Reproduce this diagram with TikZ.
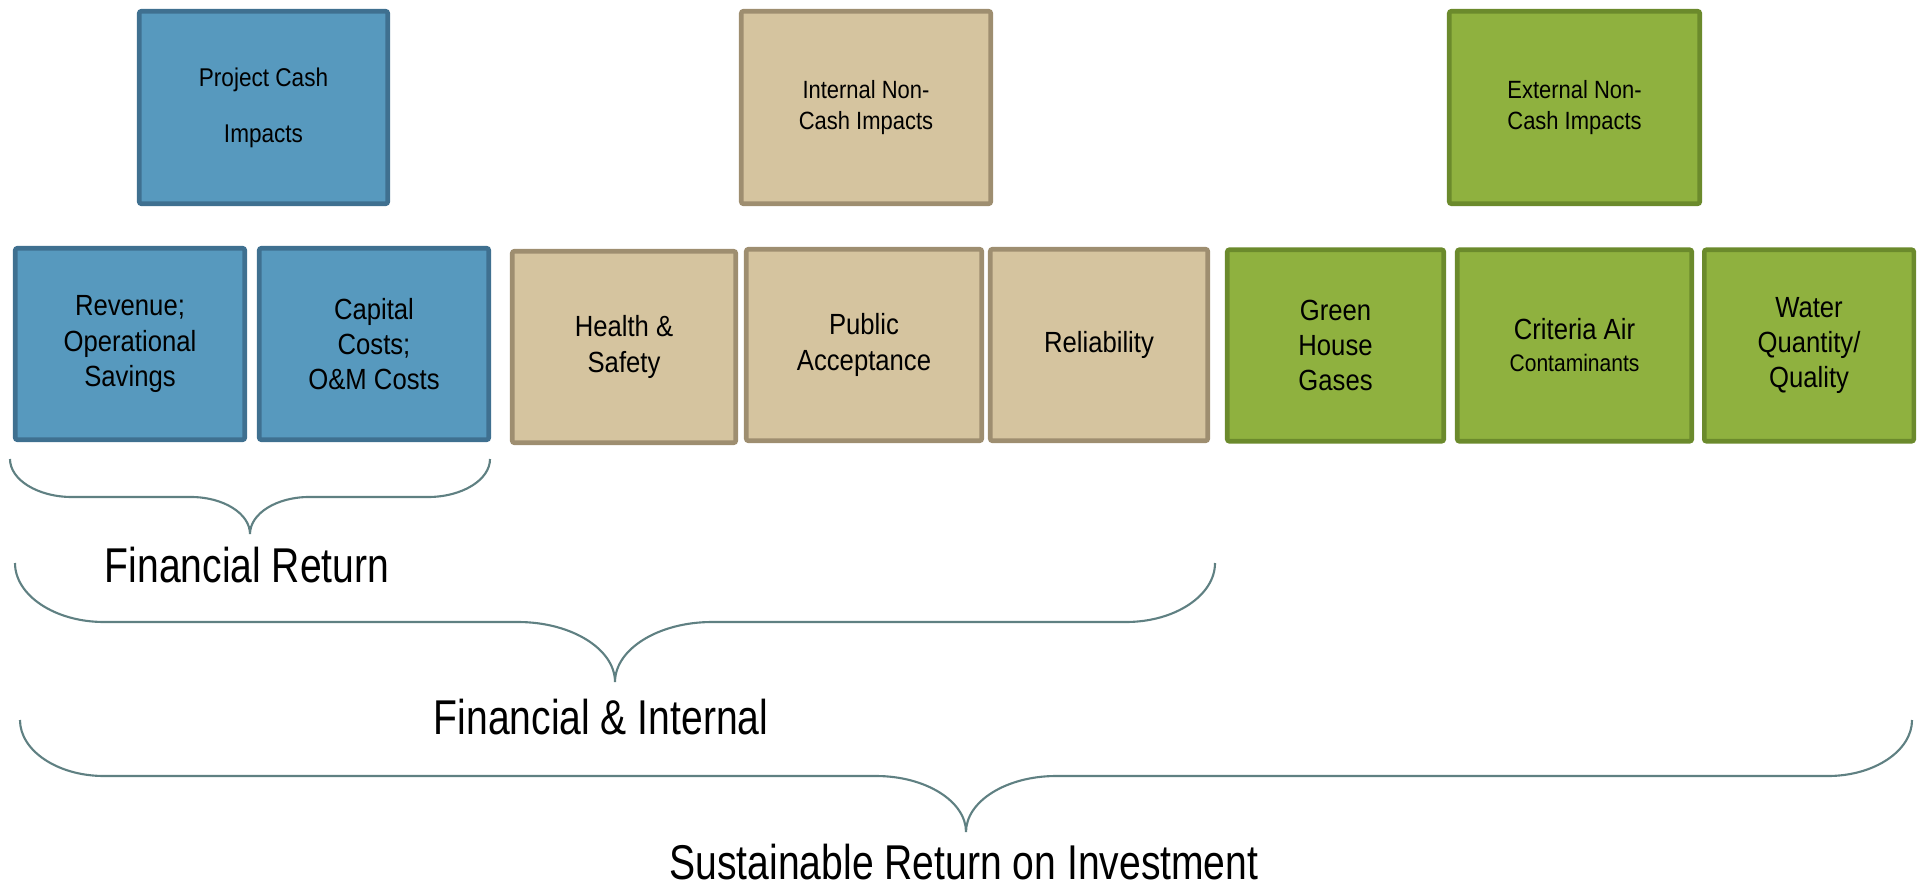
\documentclass[tikz,border=0pt]{standalone}
\usepackage{fontspec}
\setmainfont{Liberation Sans}[FakeStretch=0.88]
\newfontfamily\labelfont{Liberation Sans}[FakeStretch=0.8]
\definecolor{cashfill}{HTML}{5799BE}
\definecolor{cashline}{HTML}{3F7090}
\definecolor{intfill}{HTML}{D5C49F}
\definecolor{intline}{HTML}{9E8E70}
\definecolor{extfill}{HTML}{8FB13F}
\definecolor{extline}{HTML}{6B8A2C}
\definecolor{braceline}{HTML}{5F8082}
\begin{document}
\begin{tikzpicture}[x = .1mm, y = -.1mm,
    impact/.style = {rectangle, rounded corners = .6pt, line width = 1.3pt, align = center, inner sep = 0pt},
    headbox/.style = {impact, minimum height = 19.25mm, font = \fontsize{7.1}{8.8}\selectfont},
    itembox/.style = {impact, minimum height = 19.15mm, font = \fontsize{8.3}{10}\selectfont},
    cash/.style = {fill = cashfill, draw = cashline},
    intl/.style = {fill = intfill, draw = intline},
    extl/.style = {fill = extfill, draw = extline},
    bracket/.style = {draw = braceline, line width = .6pt},
    biglabel/.style = {anchor = base, inner sep = 0pt, font = \labelfont\fontsize{13.9}{16}\selectfont}]
    \useasboundingbox (0,0) rectangle (1919,886);
    % top row
    \node[headbox, cash, minimum width = 24.85mm, font = \fontsize{7.3}{15.9}\selectfont] (pc) at (263.5,107.5) {Project Cash\\Impacts};
    \node[headbox, intl, minimum width = 24.95mm] (intnc) at (866,107.5) {Internal Non-\\Cash Impacts};
    \node[headbox, extl, minimum width = 25.05mm] (extnc) at (1574.5,107.5) {External Non-\\Cash Impacts};
    % second row
    \node[itembox, cash, minimum width = 22.95mm] (rev) at (130,344) {Revenue;\\Operational\\Savings};
    \node[itembox, cash, minimum width = 22.95mm] (capex) at (374,344) {Capital\\Costs;\\O\&M Costs};
    \node[itembox, intl, minimum width = 22.35mm] (hs) at (624,347) {Health \&\\Safety};
    \node[itembox, intl, minimum width = 23.55mm] (pa) at (864,345) {Public\\Acceptance};
    \node[itembox, intl, minimum width = 21.75mm] (rel) at (1099,345) {Reliability};
    \node[itembox, extl, minimum width = 21.65mm] (ghg) at (1335.5,345.5) {Green\\House\\Gases};
    \node[itembox, extl, minimum width = 23.45mm, font = \fontsize{8.3}{9.1}\selectfont] (cac) at (1574.5,345.5) {Criteria Air\\{\fontsize{6.8}{9.1}\selectfont Contaminants}};
    \node[itembox, extl, minimum width = 20.95mm] (wq) at (1809,345.5) {Water\\Quantity/\\Quality};
    % braces: left end/right end/top/middle/tip/corner/inner
    \foreach \xl/\xr/\yt/\ym/\yb/\r/\s in {10/490/459/497/534/62/59, 15/1215/563/622/682/89/97, 20/1912/720/776/832/84/90}{
        \pgfmathsetmacro{\xc}{(\xl+\xr)/2}
        \draw[bracket] (\xl,\yt) .. controls (\xl,{\yt+.55*(\ym-\yt)}) and ({\xl+.45*\r},\ym) .. ({\xl+\r},\ym)
            -- ({\xc-\s},\ym) .. controls ({\xc-.45*\s},\ym) and (\xc,{\yb-.55*(\yb-\ym)}) .. (\xc,\yb)
            .. controls (\xc,{\yb-.55*(\yb-\ym)}) and ({\xc+.45*\s},\ym) .. ({\xc+\s},\ym)
            -- ({\xr-\r},\ym) .. controls ({\xr-.45*\r},\ym) and (\xr,{\yt+.55*(\ym-\yt)}) .. (\xr,\yt);
    }
    \node[biglabel] (finret) at (247,582) {Financial Return};
    \node[biglabel] (finint) at (601,734) {Financial \& Internal};
    \node[biglabel] (sroi) at (964,879) {Sustainable Return on Investment};
\end{tikzpicture}
\end{document}
